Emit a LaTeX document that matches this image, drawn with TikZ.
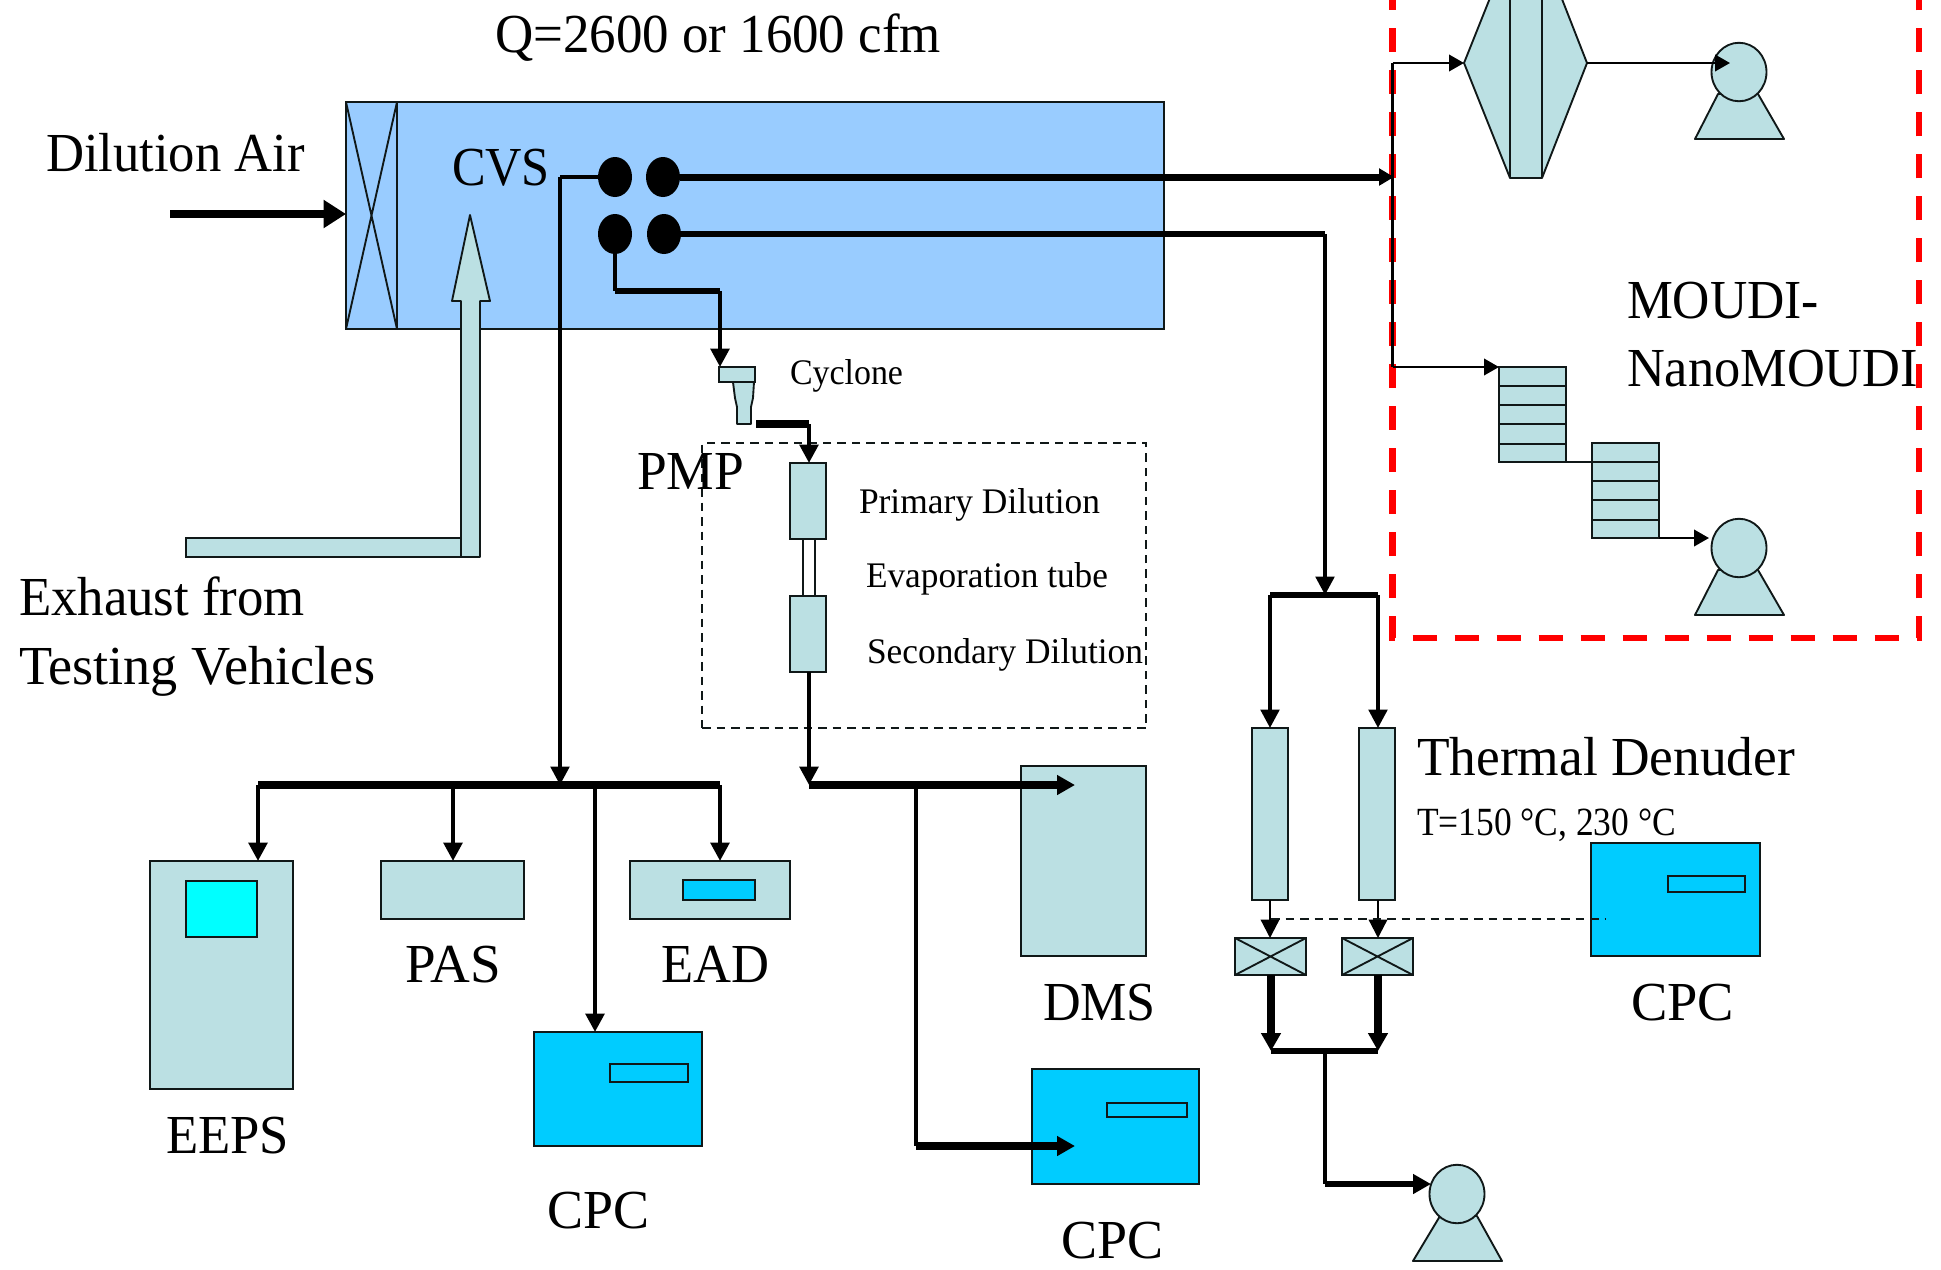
\documentclass[tikz,border=0pt]{standalone}
\usepackage{graphicx}
\usepackage{fontspec}
\setmainfont{Liberation Serif}
\usetikzlibrary{arrows.meta,shapes.geometric}
\definecolor{teal}{HTML}{BBE0E3}
\definecolor{cvsblue}{HTML}{99CCFF}
\definecolor{cpcblue}{HTML}{00CCFF}
\definecolor{screen}{HTML}{00FFFF}
\definecolor{redbox}{HTML}{FF0000}
\definecolor{ink}{HTML}{101818}
\newcommand\bx[6][]{%
  \pgfmathsetmacro\bw{(#5-#3)*0.4}\pgfmathsetmacro\bh{(#6-#4)*0.4}%
  \node[boxn,#1,minimum width=\bw pt,minimum height=\bh pt] (#2) at ({(#3+#5)/2},{(#4+#6)/2}) {};}
\newcommand\fitw[2]{\resizebox{\dimexpr #1pt*2/5\relax}{\height}{#2}}
\tikzset{
  x=0.4pt,y=-0.4pt,
  boxn/.style={rectangle,draw=ink,line width=0.75pt,fill=teal,inner sep=0pt,outer sep=0pt},
  cpcbox/.style={fill=cpcblue},
  pumphead/.style={ellipse,draw=ink,line width=0.75pt,fill=teal,inner sep=0pt,outer sep=0pt,minimum width=22pt,minimum height=23.4pt},
  port/.style={ellipse,fill=black,inner sep=0pt,outer sep=0pt,minimum width=13.6pt,minimum height=16pt},
  shapeline/.style={draw=ink,line width=0.75pt,fill=teal,line join=round},
  plain/.style={draw=ink,line width=0.75pt},
  big/.style={anchor=base west,inner sep=0pt,outer sep=0pt,font=\fontsize{22}{24}\selectfont},
  mid/.style={anchor=base west,inner sep=0pt,outer sep=0pt,font=\fontsize{16}{18}\selectfont},
  small/.style={anchor=base west,inner sep=0pt,outer sep=0pt,font=\fontsize{14.4}{16}\selectfont},
  wire/.style={draw=black,line width=1.6pt,line join=round},
  hair/.style={draw=black,line width=0.9pt,line join=round},
  fat/.style={draw=black,line width=2.9pt,line join=round},
  tip/.style={-{Triangle[width=7.4pt,length=7.4pt]}},
  tips/.style={-{Triangle[width=6.6pt,length=6pt]}},
  tipf/.style={-{Triangle[width=7.6pt,length=7.2pt]}},
  tipb/.style={-{Triangle[width=10.8pt,length=9pt]}},
  dashbox/.style={draw=ink,line width=0.8pt,dash pattern=on 3.4pt off 2.4pt},
  redbx/.style={draw=redbox,line width=2.5pt,dash pattern=on 9.6pt off 7.2pt}
}
\begin{document}
\begin{tikzpicture}
\clip (0,0) rectangle (1941,1269);
\fill[white] (0,0) rectangle (1941,1269);

% CVS tunnel
\bx[fill=cvsblue]{cvs}{346}{102}{1164}{329}
\bx[fill=cvsblue]{filterbox}{346}{102}{397}{329}
\draw[plain] (filterbox.north west) -- (filterbox.south east) (filterbox.north east) -- (filterbox.south west);

% exhaust block arrow
\bx{exhduct}{186}{538}{461}{557}
\coordinate (exhtip) at (470,215);
\draw[shapeline] (exhtip) -- (490,301) -- (480,301) -- (480,557) -- (461,557) -- (461,301) -- (452,301) -- cycle;

% ports
\node[port] (p1) at (615,177) {};
\node[port] (p2) at (663,177) {};
\node[port] (p3) at (615,234) {};
\node[port] (p4) at (664,234) {};

% red box
\draw[redbx] (1392.5,-14) -- (1392.5,638) -- (1919,638) -- (1919,0);

% PMP box
\node[rectangle,dashbox,inner sep=0pt,outer sep=0pt,minimum width=177.6pt,minimum height=114pt] (pmpbox) at (924,585.5) {};

% cyclone and dilution train
\bx{cyctop}{719}{367}{755}{382}
\draw[shapeline] (733,382) -- (754,382) -- (753,398) -- (751,407) -- (751,424) -- (737,424) -- (737,407) -- (735,398) -- cycle;
\coordinate (cycout) at (756,424);
\bx[fill=white]{evap}{803}{539}{815}{596}
\bx{prim}{790}{463}{826}{539}
\bx{sec}{790}{596}{826}{672}

% instruments
\bx{eeps}{150}{861}{293}{1089}
\bx[fill=screen]{eepsscreen}{186}{881}{257}{937}
\bx{pas}{381}{861}{524}{919}
\bx{ead}{630}{861}{790}{919}
\bx[cpcbox]{eadslot}{683}{880}{755}{900}
\bx[cpcbox]{cpca}{534}{1032}{702}{1146}
\bx[cpcbox]{cpcaslot}{610}{1064}{688}{1082}
\bx{dms}{1021}{766}{1146}{956}
\bx[cpcbox]{cpcb}{1032}{1069}{1199}{1184}
\bx[cpcbox]{cpcbslot}{1107}{1103}{1187}{1117}
\bx[cpcbox]{cpcc}{1591}{843}{1760}{956}
\bx[cpcbox]{cpccslot}{1668}{876}{1745}{892}

% thermal denuders
\bx{dena}{1252}{728}{1288}{900}
\bx{denb}{1359}{728}{1395}{900}
\bx{vala}{1235}{938}{1306}{975}
\bx{valb}{1342}{938}{1413}{975}
\draw[plain] (vala.north west) -- (vala.south east) (vala.north east) -- (vala.south west);
\draw[plain] (valb.north west) -- (valb.south east) (valb.north east) -- (valb.south west);

% filter holder
\coordinate (hexl) at (1464,63);
\coordinate (hexr) at (1587,63);
\draw[shapeline] (1510,-52) -- (hexl) -- (1510,178) -- (1542,178) -- (hexr) -- (1542,-52) -- cycle;
\draw[plain,line width=1pt] (1510,-52) -- (1510,178) (1542,-52) -- (1542,178);

% impactors
\bx{ima}{1499}{367}{1566}{462}
\bx{imb}{1592}{443}{1659}{538}
\draw[plain,line width=0.9pt] (ima.west |- 0,386) -- (ima.east |- 0,386) (ima.west |- 0,405) -- (ima.east |- 0,405) (ima.west |- 0,424) -- (ima.east |- 0,424) (ima.west |- 0,444) -- (ima.east |- 0,444);
\draw[plain,line width=0.9pt] (imb.west |- 0,462) -- (imb.east |- 0,462) (imb.west |- 0,481) -- (imb.east |- 0,481) (imb.west |- 0,500) -- (imb.east |- 0,500) (imb.west |- 0,520) -- (imb.east |- 0,520);
\draw[plain,line width=0.9pt] (ima.south east) -- (imb.west |- ima.south);

% pumps
\draw[shapeline] (1695,139) -- (1784,139) -- (1758,94) -- (1718,94) -- cycle;
\node[pumphead] (pumpa) at (1739,72) {};
\draw[shapeline] (1695,615) -- (1784,615) -- (1758,570) -- (1718,570) -- cycle;
\node[pumphead] (pumpb) at (1739,548) {};
\draw[shapeline] (1413,1261) -- (1502,1261) -- (1477,1216) -- (1440,1216) -- cycle;
\node[pumphead] (pumpc) at (1457,1194) {};

% dilution air
\coordinate (dilstart) at (170,214);
\draw[fat,line width=3pt,tipb] (dilstart) -- (filterbox.west |- dilstart);

% sampling: port 1 to instruments
\coordinate (elbowa) at (560,177);
\coordinate (busm) at (560,785);
\coordinate (busl) at (258,785);
\coordinate (busr) at (720,785);
\coordinate (busp) at (453,785);
\coordinate (busc) at (595,785);
\draw[wire,line width=1.9pt] (p1) -- (elbowa);
\draw[wire,tip] (elbowa) -- (busm);
\draw[fat] (busl) -- (busr);
\draw[wire,line width=1.8pt,tip] (busl) -- (eeps.north -| busl);
\draw[wire,line width=1.8pt,tip] (busp) -- (pas.north -| busp);
\draw[wire,line width=1.8pt,tip] (busc) -- (cpca.north -| busc);
\draw[wire,line width=1.8pt,tip] (busr) -- (ead.north -| busr);

% port 3 to cyclone
\coordinate (elbowb) at (615,291);
\coordinate (elbowc) at (720,291);
\draw[wire,line width=1.8pt] (p3) -- (elbowb);
\draw[wire,line width=2.4pt] (elbowb) -- (elbowc);
\draw[wire,line width=1.8pt,tip] (elbowc) -- (cyctop.north -| elbowc);

% cyclone to dilution
\coordinate (elbowd) at (809,424);
\draw[fat,line width=3pt] (cycout) -- (elbowd);
\draw[wire,line width=1.8pt,tip] (elbowd) -- (prim.north -| elbowd);

% dilution to DMS, CPC
\coordinate (busd) at (809,785);
\coordinate (dmstip) at (1075,785);
\coordinate (brk) at (916,785);
\coordinate (brkb) at (916,1146);
\coordinate (cpcbtip) at (1075,1146);
\coordinate (secout) at (809,672);
\draw[wire,line width=1.8pt,tip] (secout) -- (busd);
\draw[fat,tipf] (busd) -- (dmstip);
\draw[wire,line width=1.9pt] (brk) -- (brkb);
\draw[fat,tipf] (brkb) -- (cpcbtip);

% port 2 to red box
\coordinate (redin) at (1394,177);
\coordinate (redtop) at (1392.5,63);
\coordinate (redlow) at (1392.5,367);
\draw[fat,line width=2.8pt,tips] (p2) -- (redin);
\draw[hair] (redtop) -- (redlow);
\draw[hair,tips] (redtop) -- (hexl);
\draw[hair,tips] (hexr) -- (1730,63);
\draw[hair,tips] (redlow) -- (ima.west |- redlow);
\draw[hair,tips] (imb.south east) -- (1709,538);

% port 4 to denuders
\coordinate (elbowe) at (1325,234);
\coordinate (tdm) at (1325,595);
\coordinate (tdl) at (1270,595);
\coordinate (tdr) at (1378,595);
\draw[fat,line width=2.5pt] (p4) -- (elbowe);
\draw[wire,tip] (elbowe) -- (tdm);
\draw[fat,line width=2.4pt] (tdl) -- (tdr);
\draw[wire,tip] (tdl) -- (dena.north -| tdl);
\draw[wire,tip] (tdr) -- (denb.north -| tdr);
\draw[hair,tip] (dena.south -| tdl) -- (vala.north -| tdl);
\draw[hair,tip] (denb.south -| tdr) -- (valb.north -| tdr);
\coordinate (cpcin) at (1606,919);
\draw[dashbox] (1271,919) -- (cpcin);
\coordinate (tdbl) at (1271,1051);
\coordinate (tdbr) at (1378,1051);
\coordinate (tdbm) at (1325,1051);
\coordinate (pumpel) at (1325,1184);
\draw[fat,tipf] (vala.south -| tdbl) -- (tdbl);
\draw[fat,tipf] (valb.south -| tdbr) -- (tdbr);
\draw[fat,line width=2.6pt] (tdbl) -- (tdbr);
\draw[wire,line width=1.9pt] (tdbm) -- (pumpel);
\draw[fat,line width=2.6pt,tipf] (pumpel) -- (1431,1184);

% labels
\node[big] (lq) at (495,52) {\fitw{446}{Q=2600 or 1600 cfm}};
\node[big] (ld) at (46,171) {\fitw{259}{Dilution Air}};
\node[big] (lcvs) at (452,185) {\fitw{98}{CVS}};
\node[big] (le1) at (19,615) {\fitw{286}{Exhaust from}};
\node[big] (le2) at (19,684) {\fitw{356}{Testing Vehicles}};
\node[big] (lpmp) at (637,489) {\fitw{107}{PMP}};
\node[small] (lcy) at (790,384) {\fitw{113}{Cyclone}};
\node[small] (lpd) at (859,513) {\fitw{241}{Primary Dilution}};
\node[small] (let) at (866,587) {\fitw{242}{Evaporation tube}};
\node[small] (lsd) at (867,663) {\fitw{276}{Secondary Dilution}};
\node[big] (lm1) at (1627,318) {\fitw{192}{MOUDI-}};
\node[big] (lm2) at (1627,386) {\fitw{291}{NanoMOUDI}};
\node[big] (ltd) at (1417,775) {\fitw{378}{Thermal Denuder}};
\node[mid] (lt) at (1417,835) {\fitw{259}{T=150 °C, 230 °C}};
\node[big] (lcc) at (1631,1020) {\fitw{103}{CPC}};
\node[big] (leeps) at (166,1153) {\fitw{123}{EEPS}};
\node[big] (lpas) at (405,982) {\fitw{96}{PAS}};
\node[big] (lead) at (661,982) {\fitw{108}{EAD}};
\node[big] (lca) at (547,1228) {\fitw{102}{CPC}};
\node[big] (ldms) at (1043,1020) {\fitw{113}{DMS}};
\node[big] (lcb) at (1061,1258) {\fitw{102}{CPC}};
\end{tikzpicture}
\end{document}
